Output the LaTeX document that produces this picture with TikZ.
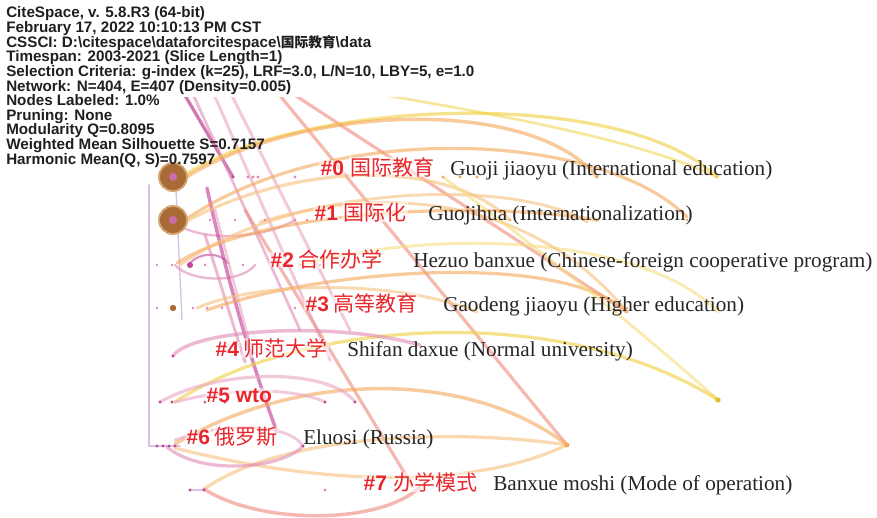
\documentclass[tikz,border=0pt]{standalone}
\usepackage{fontspec}
\setmainfont{Liberation Serif}
\newfontfamily\infofont{Liberation Sans}
\newfontfamily\cjk{Noto Sans CJK SC}
\definecolor{cvio}{HTML}{C497D4}
\definecolor{cmag}{HTML}{C2489A}
\definecolor{cpink}{HTML}{E08AB5}
\definecolor{cpinkl}{HTML}{EAA6C4}
\definecolor{csal}{HTML}{EE8A7E}
\definecolor{cred}{HTML}{EC7560}
\definecolor{cora}{HTML}{F4A75A}
\definecolor{coral}{HTML}{F7C07E}
\definecolor{cyel}{HTML}{F0D03C}
\definecolor{cyell}{HTML}{F5DE7E}
\definecolor{labred}{HTML}{E8262B}
\definecolor{nodebr}{HTML}{A86B35}
\definecolor{nodering}{HTML}{D4A46E}
\begin{document}
\begin{tikzpicture}[x=0.75pt,y=-0.75pt,
  infotxt/.style={anchor=base west, inner sep=0pt, text height=8.3pt, text depth=2.3pt, text=black!88, font=\infofont\bfseries\fontsize{11.4}{12}\selectfont},
  halo/.style={anchor=base west, inner xsep=1pt, inner ysep=0pt, fill=white, fill opacity=.55, text opacity=1},
  lblnum/.style={halo, text=labred, font=\infofont\bfseries\fontsize{15.75}{16}\selectfont},
  lblcn/.style={halo, text=labred, font=\cjk\fontsize{15.75}{16}\selectfont},
  lblen/.style={anchor=base west, inner sep=0pt, text=black!85, font=\fontsize{15.9}{17}\selectfont},
  lk/.style={line cap=round, line width=#1, opacity=.6},
  lk/.default=2.4pt,
  dot/.style={circle, inner sep=0pt, minimum size=#1},
  dot/.default=2.6pt]
\useasboundingbox (0,0) rectangle (877,517);
\fill[white] (0,0) rectangle (877,517);

% ---- left violet / pink structure
\draw[cvio, lk=1.4pt] (149,185) -- (149,446) -- (180,446);
\draw[cvio, lk=1pt] (176,190) -- (182,320);
\draw[cpink, lk=1.8pt] (173,222) .. controls (200,242) and (260,240) .. (295,220);
\draw[cmag, lk=1.6pt] (190,263) .. controls (200,252) and (220,252) .. (228,263);
\draw[cpink, lk=1.8pt] (175,265) .. controls (190,282) and (240,284) .. (255,265);

% ---- diagonal lines from the top
\draw[cmag, lk=2.4pt, opacity=.75] (183,92) -- (233,177);
\draw[cpink, lk=2pt] (192,92) -- (300,330);
\draw[cpinkl, lk=2.2pt] (213,92) -- (330,360);
\draw[cpinkl, lk=2.2pt] (230,92) -- (350,330);
\draw[cmag, lk=2.6pt, opacity=.65] (207,188) .. controls (225,270) and (250,360) .. (277,432);
\draw[cpink, lk=2.2pt] (205,235) -- (245,362);
\draw[cpinkl, lk=2pt] (215,210) -- (250,345);
\draw[csal, lk=2.4pt] (245,210) -- (413,487);
\draw[cred, lk=2.4pt, opacity=.5] (277,92) -- (567,445);
\draw[cred, lk=2.4pt, opacity=.5] (290,92) -- (627,312);
\draw[cyel, lk=2pt, opacity=.5] (367,92) .. controls (500,115) and (640,140) .. (717,177);

% ---- top orange / yellow arcs
\draw[cyel, lk=2.4pt] (185,175) .. controls (300,100) and (620,85) .. (717,177);
\draw[cora, lk=2.6pt] (185,178) .. controls (300,105) and (530,95) .. (597,177);
\draw[cora, lk=2.4pt] (185,220) .. controls (330,120) and (600,130) .. (687,217);
\draw[coral, lk=2.4pt] (185,222) .. controls (300,160) and (450,160) .. (510,220);
\draw[cora, lk=2.4pt] (177,263) .. controls (260,210) and (480,200) .. (597,220);
\draw[coral, lk=2.2pt] (180,265) .. controls (300,180) and (520,180) .. (587,222);
\draw[cora, lk=2.4pt] (207,310) .. controls (320,270) and (560,250) .. (627,312);
\draw[coral, lk=2.2pt] (197,308) .. controls (260,280) and (400,280) .. (477,312);
\draw[cyell, lk=2.2pt] (300,265) .. controls (450,225) and (650,240) .. (718,312);
\draw[coral, lk=2.2pt] (260,222) .. controls (400,180) and (540,205) .. (627,312);
\draw[cyell, lk=2.2pt] (443,177) .. controls (540,250) and (640,330) .. (718,400);
\draw[cyel, lk=2.4pt] (175,402) .. controls (300,320) and (560,300) .. (718,400);

% ---- lower arcs
\draw[cora, lk=2.6pt] (175,444) .. controls (300,370) and (470,370) .. (567,445);
\draw[coral, lk=2.4pt] (175,448) .. controls (300,480) and (460,495) .. (567,445);
\draw[coral, lk=2.4pt] (204,489) .. controls (290,430) and (470,430) .. (567,445);
\draw[csal, lk=2.6pt] (204,489) .. controls (260,525) and (380,525) .. (420,487);
\draw[cpink, lk=2.6pt] (173,356) .. controls (190,330) and (330,320) .. (420,345);
\draw[cpinkl, lk=2.4pt] (160,402) .. controls (220,368) and (330,368) .. (355,402);
\draw[cpinkl, lk=2.2pt] (175,402) .. controls (240,385) and (300,390) .. (325,402);
\draw[cpink, lk=2.4pt] (167,447) .. controls (200,475) and (280,470) .. (303,446);
\draw[cpinkl, lk=2.2pt] (175,440) .. controls (230,420) and (290,425) .. (303,446);
\draw[cvio, lk=1.2pt] (190,490) -- (204,490);

% ---- white box behind the info text
\fill[white] (0,0) rectangle (480,97);

% ---- dots
\foreach \x/\c in {233/cmag,248/cpink,253/cpink,258/cpink,295/cpink,443/cora,460/cora,477/cora,597/cora,717/cyel}
  \fill[\c] (\x,177) circle (1.3pt);
\foreach \x/\c in {160/cvio,210/cpink,235/cpink,265/cpink,295/cpink,307/csal,510/cora,597/cora,687/cora}
  \fill[\c] (\x,220) circle (1.1pt);
\foreach \x/\c in {157/cvio,172/cvio,205/cpink,225/cpink,243/cpink,283/cpink,300/csal,320/csal,340/csal}
  \fill[\c] (\x,265) circle (1.1pt);
\fill[cmag] (190,265) circle (2.3pt);
\foreach \x/\c in {157/cvio,193/cpink,207/cpink,222/cpink,295/cpink,477/cora,490/cora,507/cora,627/cora,718/cyel}
  \fill[\c] (\x,308) circle (1.1pt);
\fill[nodebr] (173,308) circle (2.4pt);
\fill[cmag] (173,356) circle (1.3pt);
\foreach \x in {160,172,205,225,325,355}
  \fill[cmag] (\x,402) circle (1.2pt);
\foreach \x in {157,163,169,175,303}
  \fill[cmag] (\x,446) circle (1.2pt);
\fill[cora] (567,445) circle (1.8pt);
\foreach \x/\c in {190/cmag,204/cmag,325/cpink}
  \fill[\c] (\x,490) circle (1.2pt);
\fill[cyel!80!olive] (718,400) circle (2pt);

% ---- big nodes
\node[dot=21pt, fill=nodebr, draw=nodering, line width=1.4pt] (n0) at (173,177) {};
\node[dot=6pt, fill=cmag!80] (n0c) at (173,177) {};
\node[dot=21pt, fill=nodebr, draw=nodering, line width=1.4pt] (n1) at (173,220) {};
\node[dot=6pt, fill=cmag!80] (n1c) at (173,220) {};

% ---- info text
\node[infotxt] (i1) at (6,18) {CiteSpace, v. 5.8.R3 (64-bit)};
\node[infotxt] (i2) at (6,32.6) {February 17, 2022 10:10:13 PM CST};
\node[infotxt] (i3) at (6,47.2) {CSSCI: D:\textbackslash citespace\textbackslash dataforcitespace\textbackslash{\cjk\fontsize{10.3}{12}\selectfont 国际教育}\textbackslash data};
\node[infotxt] (i4) at (6,61.8) {Timespan: 2003-2021 (Slice Length=1)};
\node[infotxt] (i5) at (6,76.4) {Selection Criteria: g-index (k=25), LRF=3.0, L/N=10, LBY=5, e=1.0};
\node[infotxt] (i6) at (6,91) {Network: N=404, E=407 (Density=0.005)};
\node[infotxt] (i7) at (6,105.6) {Nodes Labeled: 1.0\%};
\node[infotxt] (i8) at (6,120.2) {Pruning: None};
\node[infotxt] (i9) at (6,134.8) {Modularity Q=0.8095};
\node[infotxt] (i10) at (6,149.4) {Weighted Mean Silhouette S=0.7157};
\node[infotxt] (i11) at (6,164) {Harmonic Mean(Q, S)=0.7597};

% ---- cluster labels
\node[lblnum] (c0n) at (319,175) {\#0};
\node[lblcn]  (c0c) at (349,175) {国际教育};
\node[lblen]  (c0e) at (450,175) {Guoji jiaoyu (International education)};
\node[lblnum] (c1n) at (313,220) {\#1};
\node[lblcn]  (c1c) at (342,220) {国际化};
\node[lblen]  (c1e) at (428,220) {Guojihua (Internationalization)};
\node[lblnum] (c2n) at (269,267) {\#2};
\node[lblcn]  (c2c) at (297,267) {合作办学};
\node[lblen]  (c2e) at (413,267) {Hezuo banxue (Chinese-foreign cooperative program)};
\node[lblnum] (c3n) at (304,311) {\#3};
\node[lblcn]  (c3c) at (332,311) {高等教育};
\node[lblen]  (c3e) at (443,311) {Gaodeng jiaoyu (Higher education)};
\node[lblnum] (c4n) at (214,356) {\#4};
\node[lblcn]  (c4c) at (242,356) {师范大学};
\node[lblen]  (c4e) at (347,356) {Shifan daxue (Normal university)};
\node[lblnum] (c5n) at (205,402) {\#5 wto};
\node[lblnum] (c6n) at (185,444) {\#6};
\node[lblcn]  (c6c) at (213,444) {俄罗斯};
\node[lblen]  (c6e) at (303,444) {Eluosi (Russia)};
\node[lblnum] (c7n) at (362,490) {\#7};
\node[lblcn]  (c7c) at (392,490) {办学模式};
\node[lblen]  (c7e) at (493,490) {Banxue moshi (Mode of operation)};
\end{tikzpicture}
\end{document}
